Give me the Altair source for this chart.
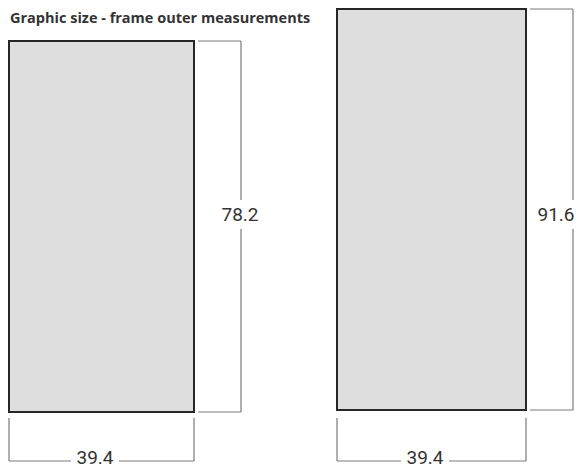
import altair as alt
import pandas as pd

# ---- data (frame outer measurements) ----
frame_names = ["Frame A", "Frame B"]
frame_width = [39.4, 39.4]
frame_height = [78.2, 91.6]
title_text = "Graphic size - frame outer measurements"

# ---- layout (drawing units = page pixels, not data) ----
frame_left = [9, 337]          # left edge of each frame drawing
frame_bottom = [412, 410]      # bottom edge of each frame drawing
px_per_unit_x = [185 / 39.4, 189 / 39.4]
px_per_unit_y = [371 / 78.2, 401 / 91.6]
side_gap, side_len = 4, 47     # vertical dimension line offsets
height_label_dx = [-1, -17]
label_mid_y = 215              # vertical position of height labels
bottom_tick_top, bottom_line_y = 418, 461
bottom_label_y = 457.5
bottom_label_shift = -6.5
gap_v = (15, 14)
gap_h = (24, 24)

rects, rules, labels = [], [], []
for i, name in enumerate(frame_names):
    x0 = frame_left[i]
    x1 = x0 + frame_width[i] * px_per_unit_x[i]
    y1 = frame_bottom[i]
    y0 = y1 - frame_height[i] * px_per_unit_y[i]
    rects.append(dict(frame=name, x=x0, x2=x1, y=y0, y2=y1))
    # height dimension
    xd = x1 + side_len
    rules += [
        dict(x=x1 + side_gap, x2=xd, y=y0, y2=y0),
        dict(x=x1 + side_gap, x2=xd, y=y1, y2=y1),
        dict(x=xd, x2=xd, y=y0, y2=label_mid_y - gap_v[0]),
        dict(x=xd, x2=xd, y=label_mid_y + gap_v[1], y2=y1),
    ]
    labels.append(dict(x=xd + height_label_dx[i], y=label_mid_y,
                       text=f"{frame_height[i]:.1f}"))
    # width dimension
    cx = (x0 + x1) / 2 + bottom_label_shift
    rules += [
        dict(x=x0, x2=x0, y=bottom_tick_top, y2=bottom_line_y),
        dict(x=x1, x2=x1, y=bottom_tick_top, y2=bottom_line_y),
        dict(x=x0, x2=cx - gap_h[0], y=bottom_line_y, y2=bottom_line_y),
        dict(x=cx + gap_h[1], x2=x1, y=bottom_line_y, y2=bottom_line_y),
    ]
    labels.append(dict(x=cx, y=bottom_label_y, text=f"{frame_width[i]:.1f}"))

rect_df = pd.DataFrame(rects)
rule_df = pd.DataFrame(rules)
label_df = pd.DataFrame(labels)
title_df = pd.DataFrame([dict(x=10, y=19, text=title_text)])

W, H = 567, 459
xs = alt.Scale(domain=[8, 8 + W], nice=False, zero=False)
ys = alt.Scale(domain=[8 + H, 8], nice=False, zero=False)

rect_layer = alt.Chart(rect_df).mark_rect(
    fill="#dedede", stroke="#262626", strokeWidth=2
).encode(
    x=alt.X("x:Q", scale=xs, axis=None), x2="x2:Q",
    y=alt.Y("y:Q", scale=ys, axis=None), y2="y2:Q",
)

rule_layer = alt.Chart(rule_df).mark_rule(
    color="#7a7a7a", strokeWidth=1.2
).encode(
    x=alt.X("x:Q", scale=xs, axis=None), x2="x2:Q",
    y=alt.Y("y:Q", scale=ys, axis=None), y2="y2:Q",
)

label_layer = alt.Chart(label_df).mark_text(
    font="Roboto", fontSize=19, color="#333333",
    align="center", baseline="middle",
).encode(
    x=alt.X("x:Q", scale=xs, axis=None),
    y=alt.Y("y:Q", scale=ys, axis=None),
    text="text:N",
)

title_layer = alt.Chart(title_df).mark_text(
    font="Open Sans", fontSize=14.5, fontWeight="bold", color="#333333",
    align="left", baseline="middle",
).encode(
    x=alt.X("x:Q", scale=xs, axis=None),
    y=alt.Y("y:Q", scale=ys, axis=None),
    text="text:N",
)

chart = alt.layer(rect_layer, rule_layer, label_layer, title_layer).properties(
    width=W, height=H, padding=0, autosize=alt.AutoSizeParams(type="none")
).configure_view(stroke=None)

chart.save("out.html", embed_options={"renderer": "svg", "actions": False})
